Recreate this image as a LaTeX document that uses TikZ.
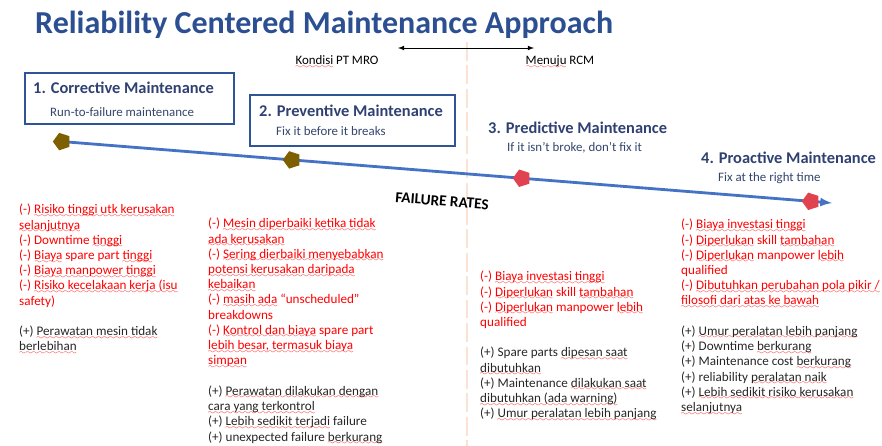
\documentclass[tikz,border=0pt]{standalone}
\usepackage{fontspec}
\setmainfont{Carlito}
\tikzset{>=latex}
\usetikzlibrary{positioning,shapes.geometric}

\definecolor{titleblue}{HTML}{2B4F91}
\definecolor{headblue}{HTML}{2F4172}
\definecolor{mottoblue}{HTML}{33466E}
\definecolor{boxblue}{HTML}{2F5597}
\definecolor{rateblue}{HTML}{4472C4}
\definecolor{markolive}{HTML}{7F6000}
\definecolor{markred}{HTML}{E0434F}
\definecolor{conred}{HTML}{FF0000}
\definecolor{progray}{HTML}{262626}
\definecolor{dividerpeach}{HTML}{FBE2D2}

% wavy red underline
\font\wavefont=lasy6
\newcommand\wv[1]{\setbox0\hbox{#1}\rlap{\textcolor{conred}{\lower3pt\hbox to\wd0{\xleaders\hbox{\wavefont\char58}\hfill}}}\box0\relax}
% a (+) line
\newcommand\pro[1]{\textcolor{progray}{(+) #1}}

\begin{document}
\begin{tikzpicture}[x=0.03cm, y=-0.03cm,
    title/.style={font=\fontsize{27.3}{31}\selectfont\bfseries, text=titleblue, inner sep=0pt},
    side/.style={font=\fontsize{11}{13}\selectfont, inner sep=0pt},
    heading/.style={anchor=west, inner sep=0pt, font=\fontsize{14}{16}\selectfont\bfseries, text=headblue},
    motto/.style={anchor=west, inner sep=0pt, font=\fontsize{11}{13}\selectfont, text=mottoblue},
    phasebox/.style={draw=boxblue, line width=1.3pt},
    column/.style={anchor=north west, inner sep=0pt, align=left, font=\fontsize{11.2}{13}\selectfont, text=conred},
    rateflag/.style={regular polygon, regular polygon sides=5, shape border rotate=90, minimum size=0.55cm, inner sep=0pt},
    rateline/.style={draw=rateblue, line width=2.4pt}]

  \useasboundingbox (0,0) rectangle (882,446);

  % title
  \node[title, anchor=base west] (title) at (35,33) {Reliability Centered Maintenance Approach};

  % now vs. target
  \coordinate (top) at (467,42);
  \coordinate (bottom) at (467,446);
  \draw[dividerpeach, line width=2.5pt, dash pattern=on 16pt off 4pt] (top) -- (bottom);
  \coordinate (mro) at (398,48);
  \coordinate (rcm) at (534,48);
  \draw[<->, line width=0.8pt] (mro) -- (rcm);
  \node[side] (kondisi) at (337,62) {\wv{Kondisi} PT MRO};
  \node[side] (menuju) at (560,62) {\wv{Menuju} RCM};

  % the four approaches
  \draw[phasebox] (25,73) rectangle (234,124);
  \draw[phasebox] (250,95) rectangle (455,146);
  \node[heading] (h1) at (33,88) {1. Corrective Maintenance};
  \node[motto] (s1) at (50,112) {Run-to-failure maintenance};
  \node[heading] (h2) at (259,111) {2. Preventive Maintenance};
  \node[motto] (s2) at (276,131) {Fix it before it breaks};
  \node[heading] (h3) at (488,128) {3. Predictive Maintenance};
  \node[motto] (s3) at (507,148) {If it isn’t broke, don’t fix it};
  \node[heading] (h4) at (701,158) {4. Proactive Maintenance};
  \node[motto] (s4) at (718,178) {Fix at the right time};

  % failure rate going down
  \coordinate (low) at (55,141);
  \coordinate (high) at (832,203);
  \draw[rateline, ->] (low) -- (high)
    node[rateflag, fill=markolive, pos=0.009] (m1) {}
    node[rateflag, fill=markolive, pos=0.305] (m2) {}
    node[rateflag, fill=markred, pos=0.601] (m3) {}
    node[rateflag, fill=markred, pos=0.973] (m4) {};
  \node[font=\fontsize{13}{15}\selectfont\bfseries, rotate=-4.5] (rates) at (442,201) {FAILURE RATES};

  % pros and cons
  \node[column] (c1) at (19,204) {(-) \wv{Risiko tinggi utk kerusakan}\\ \wv{selanjutnya}\\ (-) Downtime \wv{tinggi}\\ (-) \wv{Biaya} spare part \wv{tinggi}\\ (-) \wv{Biaya manpower tinggi}\\ (-) \wv{Risiko kecelakaan kerja (isu}\\ safety)\\[13pt] \pro{\wv{Perawatan mesin tidak}}\\ \textcolor{progray}{\wv{berlebihan}}};
  \node[column] (c2) at (208,218) {(-) \wv{Mesin diperbaiki ketika tidak}\\ \wv{ada kerusakan}\\ (-) \wv{Sering dierbaiki menyebabkan}\\ \wv{potensi kerusakan daripada}\\ \wv{kebaikan}\\ (-) \wv{masih ada} “unscheduled”\\ breakdowns\\ (-) \wv{Kontrol dan biaya} spare part\\ \wv{lebih besar, termasuk biaya}\\ \wv{simpan}\\[13pt] \pro{\wv{Perawatan dilakukan dengan}}\\ \textcolor{progray}{\wv{cara yang terkontrol}}\\ \pro{\wv{Lebih sedikit terjadi} failure}\\ \pro{unexpected failure \wv{berkurang}}};
  \node[column] (c3) at (480,271) {(-) \wv{Biaya investasi tinggi}\\ (-) \wv{Diperlukan} skill \wv{tambahan}\\ (-) \wv{Diperlukan} manpower \wv{lebih}\\ qualified\\[13pt] \pro{Spare parts \wv{dipesan saat}}\\ \textcolor{progray}{\wv{dibutuhkan}}\\ \pro{Maintenance \wv{dilakukan saat}}\\ \textcolor{progray}{\wv{dibutuhkan (ada warning)}}\\ \pro{\wv{Umur peralatan lebih panjang}}};
  \node[column] (c4) at (681,219) {(-) \wv{Biaya investasi tinggi}\\ (-) \wv{Diperlukan} skill \wv{tambahan}\\ (-) \wv{Diperlukan} manpower \wv{lebih}\\ qualified\\ (-) \wv{Dibutuhkan perubahan pola pikir /}\\ \wv{filosofi dari atas ke bawah}\\[13pt] \pro{\wv{Umur peralatan lebih panjang}}\\ \pro{Downtime \wv{berkurang}}\\ \pro{Maintenance cost \wv{berkurang}}\\ \pro{reliability \wv{peralatan naik}}\\ \pro{\wv{Lebih sedikit risiko kerusakan}}\\ \textcolor{progray}{\wv{selanjutnya}}};
\end{tikzpicture}
\end{document}
